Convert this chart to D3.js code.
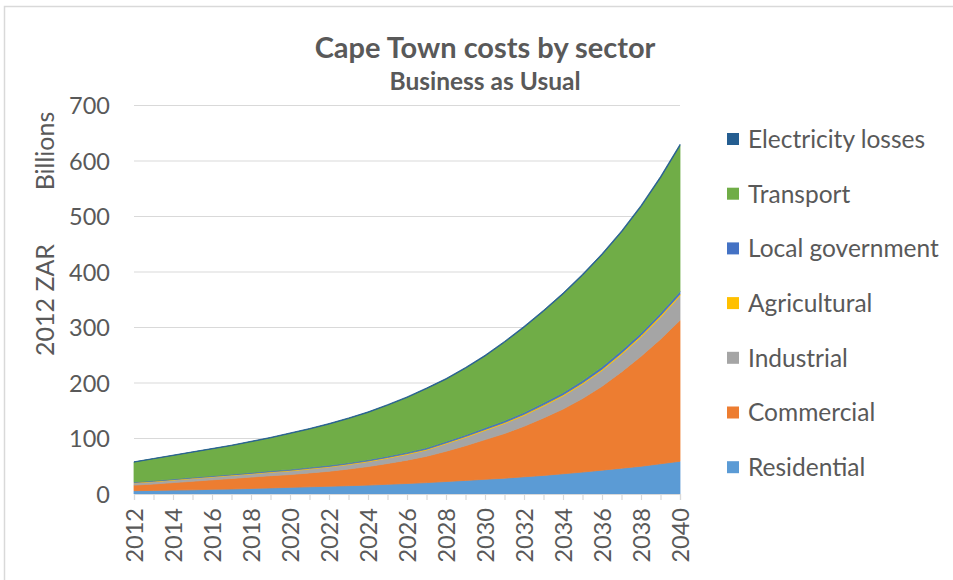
<!DOCTYPE html>
<html>
<head>
<meta charset="utf-8">
<script src="https://cdn.jsdelivr.net/npm/d3@7"></script>
<style>
  html, body { margin: 0; padding: 0; background: #fff; }
  svg { display: block; }
  text { font-family: Lato, "Open Sans", sans-serif; fill: #595959; }
</style>
</head>
<body>
<svg id="chart" width="953" height="580"></svg>
<script>
// Years on the category axis
const years = d3.range(2012, 2041);
const yearTicks = d3.range(2012, 2041, 2);
const valueTicks = [0, 100, 200, 300, 400, 500, 600, 700];

// Costs by sector, billions of 2012 ZAR
const residential = [6, 6.5, 7, 7.5, 8.5, 9, 10, 11, 12, 13, 14, 15, 16, 17.5, 19, 20.5, 22.5, 24.5, 26.5, 28.5, 31, 33.5, 36.5, 39.5, 43, 46.5, 50, 54.5, 59];
const commercial = [10, 11.5, 13.5, 15.5, 17, 19, 20.5, 22, 23, 25, 27, 30, 33.5, 37.5, 42, 47.5, 54.5, 62.5, 71.5, 80.5, 91, 103.5, 116.5, 132.5, 151, 173.5, 198, 224.5, 254];
const industrial = [4, 4.2, 4.5, 4.8, 5, 5.3, 5.6, 6, 6.5, 7, 7.5, 8, 8.7, 9.5, 10.3, 11.2, 13.5, 15, 16.5, 18, 19.5, 21.5, 23.5, 26, 28.5, 31.5, 35, 39.5, 44];
const agricultural = [0.8, 0.8, 0.9, 0.9, 1, 1, 1, 1.1, 1.1, 1.2, 1.2, 1.3, 1.3, 1.4, 1.5, 1.5, 1.6, 1.7, 1.8, 1.9, 2, 2.1, 2.2, 2.3, 2.4, 2.6, 2.7, 2.9, 3];
const localGovernment = [1, 1.1, 1.2, 1.3, 1.4, 1.5, 1.6, 1.7, 1.8, 1.9, 2, 2.1, 2.2, 2.3, 2.4, 2.5, 2.6, 2.8, 3, 3.2, 3.4, 3.6, 3.8, 4, 4.2, 4.4, 4.6, 4.8, 5];
const transport = [35.6, 39.3, 42.2, 45.3, 48.3, 51.4, 55.4, 59.3, 64.6, 68.9, 74.2, 79.5, 85.1, 91.6, 98.5, 106.5, 111.9, 120, 129.1, 141.2, 153.3, 164.9, 177.5, 189.6, 201.7, 213.2, 227.3, 243.3, 262.4];
const electricityLosses = [0.6, 0.6, 0.7, 0.7, 0.8, 0.8, 0.9, 0.9, 1, 1, 1.1, 1.1, 1.2, 1.2, 1.3, 1.3, 1.4, 1.5, 1.6, 1.7, 1.8, 1.9, 2, 2.1, 2.2, 2.3, 2.4, 2.5, 2.6];

// Stack order, bottom to top
const sectors = [
  { key: "Residential", values: residential, color: "#5B9BD5" },
  { key: "Commercial", values: commercial, color: "#ED7D31" },
  { key: "Industrial", values: industrial, color: "#A5A5A5" },
  { key: "Agricultural", values: agricultural, color: "#FFC000" },
  { key: "Local government", values: localGovernment, color: "#4472C4" },
  { key: "Transport", values: transport, color: "#70AD47" },
  { key: "Electricity losses", values: electricityLosses, color: "#255E91" }
];

const rows = years.map((yr, i) => {
  const r = { year: yr };
  sectors.forEach(s => { r[s.key] = s.values[i]; });
  return r;
});

const svg = d3.select("#chart");

// Outer frame of the chart object
svg.append("path")
  .attr("d", "M4.5,580 V6.5 H953")
  .attr("fill", "none")
  .attr("stroke", "#D9D9D9")
  .attr("stroke-width", 1.5);

const x = d3.scaleLinear().domain([2012, 2040]).range([134, 680]);
const y = d3.scaleLinear().domain([0, 700]).range([494, 105.5]);

// Horizontal gridlines
svg.append("g")
  .selectAll("line")
  .data(valueTicks.filter(v => v > 0))
  .join("line")
  .attr("x1", x(2012)).attr("x2", x(2040))
  .attr("y1", d => y(d)).attr("y2", d => y(d))
  .attr("stroke", "#D9D9D9")
  .attr("stroke-width", 1.2);

// Stacked areas
const stack = d3.stack().keys(sectors.map(s => s.key));
const series = stack(rows);
const area = d3.area()
  .x(d => x(d.data.year))
  .y0(d => y(d[0]))
  .y1(d => y(d[1]));

svg.append("g")
  .selectAll("path")
  .data(series)
  .join("path")
  .attr("d", area)
  .attr("fill", (d, i) => sectors[i].color)
  .attr("stroke", (d, i) => sectors[i].color)
  .attr("stroke-width", 0.8);

// Category axis line with a tick at every year
const xAxis = d3.axisBottom(x)
  .tickValues(years)
  .tickSize(6)
  .tickFormat("");
const gx = svg.append("g").attr("transform", `translate(0,${y(0)})`).call(xAxis);
gx.select(".domain").attr("stroke", "#D9D9D9").attr("stroke-width", 1.2);
gx.selectAll(".tick line").attr("stroke", "#D9D9D9").attr("stroke-width", 1.2);

// Rotated year labels
svg.append("g")
  .selectAll("text")
  .data(yearTicks)
  .join("text")
  .attr("transform", d => `translate(${x(d) + 8.5},508) rotate(-90)`)
  .attr("text-anchor", "end")
  .style("font-size", "23.5px")
  .text(d => d);

// Value axis labels
const yAxis = d3.axisLeft(y).tickValues(valueTicks).tickSize(0).tickPadding(0);
const gy = svg.append("g").attr("transform", "translate(110,0)").call(yAxis);
gy.select(".domain").remove();
gy.selectAll("text")
  .attr("dy", "0.36em")
  .style("font-size", "23.5px")
  .style("font-family", "Lato, 'Open Sans', sans-serif")
  .attr("fill", "#595959");

// Axis title and display units
svg.append("text")
  .attr("transform", "translate(54,300) rotate(-90)")
  .attr("text-anchor", "middle")
  .style("font-size", "25px")
  .text("2012 ZAR");
svg.append("text")
  .attr("transform", "translate(54,151) rotate(-90)")
  .attr("text-anchor", "middle")
  .style("font-size", "25px")
  .text("Billions");

// Titles
svg.append("text")
  .attr("x", 485).attr("y", 58)
  .attr("text-anchor", "middle")
  .style("font-size", "29px")
  .style("font-weight", "bold")
  .text("Cape Town costs by sector");
svg.append("text")
  .attr("x", 485).attr("y", 90)
  .attr("text-anchor", "middle")
  .style("font-size", "24.5px")
  .style("font-weight", "bold")
  .text("Business as Usual");

// Legend, top of the stack first
const legendItems = sectors.slice().reverse();
const legend = svg.append("g")
  .selectAll("g")
  .data(legendItems)
  .join("g")
  .attr("transform", (d, i) => `translate(727,${139 + i * 54.7})`);
legend.append("rect")
  .attr("x", 0).attr("y", -6)
  .attr("width", 12).attr("height", 12)
  .attr("fill", d => d.color);
legend.append("text")
  .attr("x", 21).attr("y", 0)
  .attr("dy", "0.36em")
  .style("font-size", "24.5px")
  .text(d => d.key);
</script>
</body>
</html>
